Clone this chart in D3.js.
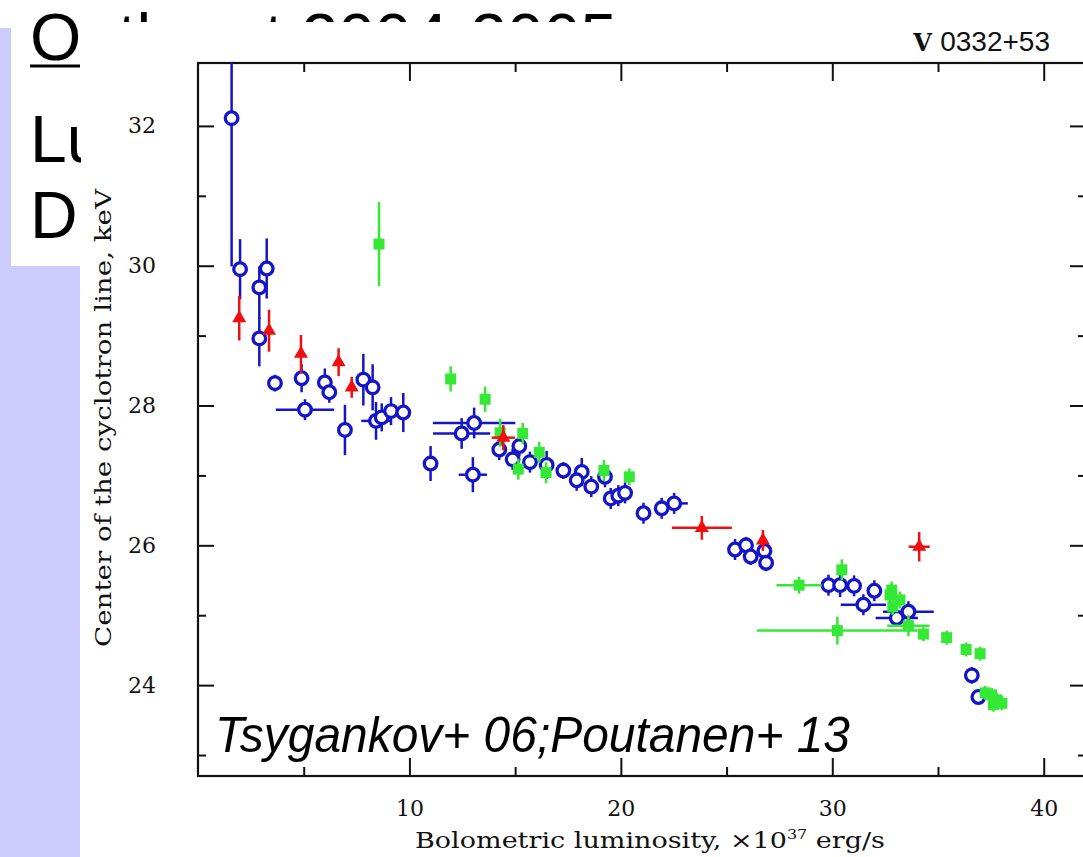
<!DOCTYPE html>
<html><head><meta charset="utf-8">
<script src="https://cdn.jsdelivr.net/npm/d3@7"></script>
<style>html,body{margin:0;padding:0;background:#fff;overflow:hidden}</style>
</head><body><svg id="c" width="1083" height="857"></svg>
<script>
// ---- data ----
const chartTitle = "V 0332+53";
const xLabel = "Bolometric luminosity, \u00d710";
const yLabel = "Center of the cyclotron line, keV";
const note = "Tsygankov+ 06;Poutanen+ 13";
const slideLines = ["Outburst 2004-2005", "Lu", "D"];

const xMajor = [10, 20, 30, 40];
const xMinor = [5, 15, 25, 35];
const yMajor = [24, 26, 28, 30, 32];
const yMinor = [23, 25, 27, 29, 31];

// blue open circles
const blueX = [1.59,1.99,3.25,2.90,2.90,3.64,4.90,5.06,6.00,6.21,6.95,7.82,8.26,8.42,8.69,9.13,9.71,11.00,12.47,13.06,13.00,14.25,14.88,15.20,15.70,16.49,17.28,18.15,17.91,18.60,19.25,19.52,19.88,20.20,21.07,21.93,22.52,25.40,25.92,26.14,26.79,26.87,29.82,30.37,31.03,31.47,31.99,33.05,33.60,36.60,36.91];
const blueY = [32.11,29.95,29.96,29.69,28.96,28.32,28.39,27.94,28.33,28.19,27.65,28.37,28.26,27.78,27.83,27.92,27.90,27.17,27.60,27.75,27.01,27.37,27.23,27.42,27.19,27.15,27.07,27.05,26.93,26.84,26.98,26.67,26.71,26.75,26.46,26.53,26.60,25.94,26.00,25.84,25.92,25.75,25.43,25.43,25.42,25.15,25.35,24.96,25.05,24.14,23.83];
const blueXErr = [0,0,0,0,0,0,0,1.38,0,0,0,0,0,0.70,0,0,0,0,1.35,1.95,0.67,0,0,0,0,0,0,0,0,0,0,0,0,0,0,0,0.65,0,0,0,0,0,0,0,0,1.07,0,1.00,1.20,0,0];
const blueYErrLo = [2.12,0.43,0.43,0.45,0.40,0.12,0.20,0.15,0.20,0.15,0.36,0.37,0.33,0.27,0.20,0.20,0.28,0.25,0.22,0.22,0.25,0.15,0.15,0.15,0.15,0.20,0.12,0.20,0.15,0.15,0.15,0.15,0.15,0.15,0.15,0.15,0.15,0.15,0.12,0.12,0.15,0.12,0.15,0.17,0.15,0.15,0.15,0.12,0.15,0.12,0.10];
const blueYErrHi = [1.50,0.43,0.43,0.30,0.30,0.12,0.20,0.15,0.20,0.15,0.36,0.37,0.33,0.27,0.20,0.20,0.28,0.25,0.22,0.22,0.25,0.15,0.15,0.15,0.15,0.20,0.12,0.20,0.15,0.15,0.15,0.15,0.15,0.15,0.15,0.15,0.15,0.15,0.12,0.12,0.15,0.12,0.15,0.17,0.15,0.15,0.15,0.12,0.15,0.12,0.10];

// red triangles
const redX = [1.95,3.36,4.87,6.65,7.27,14.44,23.83,26.72,34.11];
const redY = [29.25,29.07,28.74,28.62,28.26,27.54,26.25,26.07,25.98];
const redXErr = [0,0,0,0,0,0.55,1.42,0,0.50];
const redYErr = [0.32,0.30,0.27,0.20,0.15,0.18,0.17,0.15,0.21];

// green squares
const greenX = [8.56,11.95,13.58,14.29,15.36,15.15,16.14,16.46,19.20,20.40,28.43,30.45,30.24,32.81,32.73,32.86,33.20,33.60,34.31,35.41,36.33,36.99,37.23,37.54,37.78,38.02,37.62];
const greenY = [30.31,28.38,28.09,27.61,27.60,27.09,27.33,27.04,27.07,26.98,25.43,25.65,24.78,25.36,25.29,25.12,25.22,24.85,24.73,24.68,24.51,24.45,23.89,23.86,23.79,23.74,23.72];
const greenXErr = [0,0,0,0,0,0,0,0,0,0,1.07,0,3.80,0,0,0,0,1.00,0,0,0,0,0,0,0,0,0];
const greenYErr = [0.60,0.18,0.18,0.20,0.15,0.15,0.15,0.15,0.15,0.12,0.12,0.15,0.20,0.12,0.12,0.12,0.12,0.15,0.10,0.10,0.10,0.10,0.10,0.10,0.10,0.10,0.10];

// ---- drawing ----
const svg = d3.select("#c");
const W = 1083, H = 857;
const serif = "'DejaVu Serif', serif";

// slide background behind the chart picture
svg.append("rect").attr("x",0).attr("y",28).attr("width",80).attr("height",H-28).attr("fill","#ccccff");
svg.append("rect").attr("x",11).attr("y",28).attr("width",300).attr("height",238).attr("fill","#fff");
const slide = svg.append("g").attr("font-family","Arial, 'Liberation Sans', sans-serif").attr("font-size",66).attr("fill","#000");
slide.append("text").attr("x",30).attr("y",60).text(slideLines[0]);
slide.append("line").attr("x1",30).attr("x2",80).attr("y1",66).attr("y2",66).attr("stroke","#000").attr("stroke-width",3);
slide.append("text").attr("x",30).attr("y",162).text(slideLines[1]);
slide.append("text").attr("x",30).attr("y",238).text(slideLines[2]);

// chart picture white area
svg.append("rect").attr("x",81).attr("y",22).attr("width",W-81).attr("height",H-22).attr("fill","#fff");

const x = d3.scaleLinear().domain([0,42]).range([198,1086]);
const y = d3.scaleLinear().domain([22.7,32.9]).range([776,63]);
const [X0,X1] = x.range(), [Y0,Y1] = y.range();

svg.append("defs").append("clipPath").attr("id","pc")
  .append("rect").attr("x",X0).attr("y",Y1).attr("width",X1-X0).attr("height",Y0-Y1);

function styleAxis(g){
  g.select(".domain").remove();
  g.selectAll(".tick line").attr("stroke","#111").attr("stroke-width",2);
  g.selectAll("text").attr("font-family",serif).attr("font-size",22).attr("fill","#111");
}
// bottom
svg.append("g").attr("transform",`translate(0,${Y0})`)
  .call(d3.axisBottom(x).tickValues(xMajor).tickSize(-18).tickPadding(24).tickFormat(d3.format("d"))).call(styleAxis);
svg.append("g").attr("transform",`translate(0,${Y0})`)
  .call(d3.axisBottom(x).tickValues(xMinor).tickSize(-9).tickFormat("")).call(styleAxis);
// top
svg.append("g").attr("transform",`translate(0,${Y1})`)
  .call(d3.axisTop(x).tickValues(xMajor).tickSize(-18).tickFormat("")).call(styleAxis);
svg.append("g").attr("transform",`translate(0,${Y1})`)
  .call(d3.axisTop(x).tickValues(xMinor).tickSize(-9).tickFormat("")).call(styleAxis);
// left
svg.append("g").attr("transform",`translate(${X0},0)`)
  .call(d3.axisLeft(y).tickValues(yMajor).tickSize(-16).tickPadding(42).tickFormat(d3.format("d"))).call(styleAxis);
svg.append("g").attr("transform",`translate(${X0},0)`)
  .call(d3.axisLeft(y).tickValues(yMinor).tickSize(-8).tickFormat("")).call(styleAxis);
// right
svg.append("g").attr("transform",`translate(${X1},0)`)
  .call(d3.axisRight(y).tickValues(yMajor).tickSize(-16).tickFormat("")).call(styleAxis);
svg.append("g").attr("transform",`translate(${X1},0)`)
  .call(d3.axisRight(y).tickValues(yMinor).tickSize(-8).tickFormat("")).call(styleAxis);

// frame
svg.append("rect").attr("x",X0).attr("y",Y1).attr("width",X1-X0).attr("height",Y0-Y1)
  .attr("fill","none").attr("stroke","#111").attr("stroke-width",2.2);

// labels
const xl = svg.append("text").attr("x",650).attr("y",848).attr("text-anchor","middle")
  .attr("font-family",serif).attr("font-size",22).attr("fill","#111")
  .attr("textLength",470).attr("lengthAdjust","spacingAndGlyphs");
xl.append("tspan").text(xLabel);
xl.append("tspan").attr("font-size",13).attr("dy",-9).text("37");
xl.append("tspan").attr("dy",9).text(" erg/s");

svg.append("text").attr("transform",`translate(111,418) rotate(-90)`).attr("text-anchor","middle")
  .attr("font-family",serif).attr("font-size",22).attr("fill","#111")
  .attr("textLength",458).attr("lengthAdjust","spacingAndGlyphs").text(yLabel);

const tt = svg.append("text").attr("x",1050).attr("y",51).attr("text-anchor","end").attr("fill","#111");
tt.append("tspan").attr("font-family",serif).attr("font-weight","bold").attr("font-size",24).text(chartTitle.split(" ")[0] + " ");
tt.append("tspan").attr("font-family","Arial, 'Liberation Sans', sans-serif").attr("font-size",28).text(chartTitle.split(" ")[1]);

// data
const plot = svg.append("g").attr("clip-path","url(#pc)");
const BLUE = "#1414c8", RED = "#ee1010", GREEN = "#36e836";

function errBars(g, xs, ys, xe, yeLo, yeHi, color){
  xs.forEach((v,i)=>{
    if (yeLo[i] > 0 || yeHi[i] > 0)
      g.append("line").attr("x1",x(v)).attr("x2",x(v)).attr("y1",y(ys[i]-yeLo[i])).attr("y2",y(ys[i]+yeHi[i]))
        .attr("stroke",color).attr("stroke-width",2.5);
    if (xe[i] > 0)
      g.append("line").attr("x1",x(v-xe[i])).attr("x2",x(v+xe[i])).attr("y1",y(ys[i])).attr("y2",y(ys[i]))
        .attr("stroke",color).attr("stroke-width",2.5);
  });
}

// blue
const gB = plot.append("g");
errBars(gB, blueX, blueY, blueXErr, blueYErrLo, blueYErrHi, BLUE);
gB.selectAll("circle").data(blueX).join("circle")
  .attr("cx",d=>x(d)).attr("cy",(d,i)=>y(blueY[i])).attr("r",6.3)
  .attr("fill","#fff").attr("stroke",BLUE).attr("stroke-width",3.3);

// green
const gG = plot.append("g");
errBars(gG, greenX, greenY, greenXErr, greenYErr, greenYErr, GREEN);
gG.selectAll("rect").data(greenX).join("rect")
  .attr("x",d=>x(d)-5.5).attr("y",(d,i)=>y(greenY[i])-5.5).attr("width",11).attr("height",11)
  .attr("fill",GREEN);

// red
const gR = plot.append("g");
errBars(gR, redX, redY, redXErr, redYErr, redYErr, RED);
gR.selectAll("path").data(redX).join("path")
  .attr("transform",(d,i)=>`translate(${x(d)},${y(redY[i])})`)
  .attr("d",d3.symbol(d3.symbolTriangle,85)()).attr("fill",RED);

// annotation
svg.append("text").attr("x",215).attr("y",752).attr("font-family","Arial, 'Liberation Sans', sans-serif")
  .attr("font-style","italic").attr("font-size",50).attr("fill","#000")
  .attr("textLength",635).attr("lengthAdjust","spacingAndGlyphs").text(note);
</script></body></html>
